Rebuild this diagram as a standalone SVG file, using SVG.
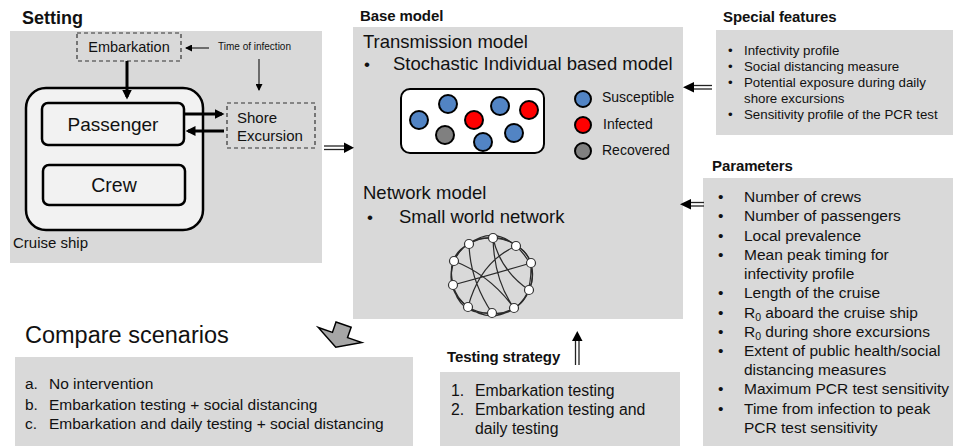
<svg xmlns="http://www.w3.org/2000/svg" width="959" height="446" viewBox="0 0 959 446">
  <defs>
    <style>
      text { font-family: "Liberation Sans", Arial, sans-serif; fill: #111; }
      .panel { fill: #d9d9d9; }
      .title { font-weight: bold; font-size: 15px; letter-spacing: -0.1px; }
      .dash { fill: none; stroke: #333; stroke-width: 1.2; stroke-dasharray: 4 3; }
      .box { fill: #f2f2f2; stroke: #000; stroke-width: 2.5; }
      .thick { stroke: #000; stroke-width: 3; fill: none; }
      .thin { stroke: #222; stroke-width: 1.2; fill: none; }
      .dot { stroke: #000; stroke-width: 2; }
      .s { fill: #5284c4; }
      .i { fill: #ff0000; }
      .r { fill: #808080; }
      .edge { fill: none; stroke: #2a2a2a; stroke-width: 1.2; }
      .node { fill: #fff; stroke: #333; stroke-width: 1.2; }
      .dbl { stroke: #222; stroke-width: 1.3; }
      .sm { font-size: 13.3px; }
      .md { font-size: 15.5px; }
    </style>
    <marker id="headBig" markerWidth="10" markerHeight="10" refX="6" refY="4" orient="auto" markerUnits="userSpaceOnUse" viewBox="0 0 8 8">
      <path d="M0,0 L8,4 L0,8 Z" fill="#000"/>
    </marker>
    <marker id="headSmall" markerWidth="7" markerHeight="7" refX="6" refY="3.5" orient="auto" markerUnits="userSpaceOnUse" viewBox="0 0 7 7">
      <path d="M0,0 L7,3.5 L0,7 Z" fill="#000"/>
    </marker>
  </defs>

  <rect width="959" height="446" fill="#fff"/>

  <!-- Setting -->
  <g id="setting">
    <text x="22" y="24" font-weight="bold" font-size="18">Setting</text>
    <rect class="panel" x="10" y="31" width="312" height="232"/>
    <text x="13" y="248" font-size="15">Cruise ship</text>
    <text x="218" y="50" font-size="10">Time of infection</text>
  </g>
  <g id="embarkation">
    <rect class="dash" x="77" y="33" width="104" height="28"/>
    <text x="129" y="52" font-size="14.5" text-anchor="middle">Embarkation</text>
  </g>
  <g id="cruise-ship">
    <rect class="box" x="26" y="88" width="177" height="142" rx="20"/>
  </g>
  <g id="passenger">
    <rect class="box" x="42" y="103" width="142" height="42" rx="6"/>
    <text x="113" y="131" font-size="19" text-anchor="middle">Passenger</text>
  </g>
  <g id="crew">
    <rect class="box" x="43" y="165" width="142" height="40" rx="6"/>
    <text x="114" y="192" font-size="19.5" text-anchor="middle">Crew</text>
  </g>
  <g id="shore-excursion">
    <rect class="dash" x="227" y="103" width="88" height="45"/>
    <text x="237" y="123" font-size="15">Shore</text>
    <text x="237" y="141" font-size="15">Excursion</text>
  </g>

  <!-- Base model -->
  <g id="base-model">
    <text x="360" y="21" class="title">Base model</text>
    <rect class="panel" x="353" y="27" width="330" height="292"/>
    <text x="363" y="48" font-size="18.5">Transmission model</text>
    <text x="364" y="70" font-size="17">•</text>
    <text x="393" y="70" font-size="18.5">Stochastic Individual based model</text>
    <text x="363" y="199" font-size="18.5">Network model</text>
    <text x="367" y="223" font-size="17">•</text>
    <text x="399" y="223" font-size="18.5">Small world network</text>
  </g>
  <g id="population">
    <rect x="401" y="89" width="143" height="64" rx="9" fill="#fff" stroke="#000" stroke-width="2"/>
    <circle class="dot s" cx="419" cy="120" r="9"/>
    <circle class="dot s" cx="448" cy="104" r="9"/>
    <circle class="dot r" cx="445" cy="135" r="9"/>
    <circle class="dot i" cx="474" cy="120" r="9"/>
    <circle class="dot s" cx="483" cy="142" r="9"/>
    <circle class="dot s" cx="500" cy="106" r="9"/>
    <circle class="dot s" cx="514" cy="133" r="9"/>
    <circle class="dot i" cx="529" cy="110" r="9"/>
  </g>
  <g id="legend">
    <circle class="dot s" cx="583" cy="99" r="8"/>
    <circle class="dot i" cx="583" cy="125" r="8"/>
    <circle class="dot r" cx="583" cy="151" r="8"/>
    <text x="602" y="102" font-size="14">Susceptible</text>
    <text x="603" y="129" font-size="14">Infected</text>
    <text x="602" y="155" font-size="14">Recovered</text>
  </g>
  <g id="network">
    <!-- ring lattice -->
    <path class="edge" d="M493,238 Q506,237 516,246 Q527,251 531,263 Q535,277 529,290 Q525,302 514,308 Q503,315 492,313 Q479,314 468,307 Q456,298 453,285 Q449,272 454,261 Q459,249 469,244 Q480,237 493,238"/>
    <!-- second neighbours -->
    <path class="edge" d="M493,238 Q522,240 531,263 M516,246 Q540,268 529,290 M531,263 Q532,300 514,308 M529,290 Q515,318 492,313 M514,308 Q490,324 468,307 M492,313 Q459,316 453,285 M468,307 Q444,290 454,261 M453,285 Q446,255 469,244 M454,261 Q466,236 493,238 M469,244 Q493,226 516,246"/>
    <!-- long-range links -->
    <path class="edge" d="M493,238 Q500,270 529,290 M493,238 Q494,280 514,308 M454,261 Q490,275 514,308 M516,246 Q480,262 468,307 M531,263 Q490,275 453,285 M469,244 Q470,280 492,313"/>
    <circle class="node" cx="493" cy="238" r="4.5"/>
    <circle class="node" cx="516" cy="246" r="4.5"/>
    <circle class="node" cx="531" cy="263" r="4.5"/>
    <circle class="node" cx="529" cy="290" r="4.5"/>
    <circle class="node" cx="514" cy="308" r="4.5"/>
    <circle class="node" cx="492" cy="313" r="4.5"/>
    <circle class="node" cx="468" cy="307" r="4.5"/>
    <circle class="node" cx="453" cy="285" r="4.5"/>
    <circle class="node" cx="454" cy="261" r="4.5"/>
    <circle class="node" cx="469" cy="244" r="4.5"/>
  </g>

  <!-- Special features -->
  <g id="special-features">
    <text x="723" y="22" class="title">Special features</text>
    <rect class="panel" x="716" y="30" width="237" height="105"/>
    <g class="sm">
      <text x="728" y="55">•</text><text x="744" y="55">Infectivity profile</text>
      <text x="728" y="71">•</text><text x="744" y="71">Social distancing measure</text>
      <text x="728" y="87">•</text><text x="744" y="87">Potential exposure during daily</text>
      <text x="744" y="103">shore excursions</text>
      <text x="728" y="119">•</text><text x="744" y="119">Sensitivity profile of the PCR test</text>
    </g>
  </g>

  <!-- Parameters -->
  <g id="parameters">
    <text x="712" y="171" class="title">Parameters</text>
    <rect class="panel" x="703" y="178" width="250" height="268"/>
    <g class="md">
      <text x="718" y="202">•</text><text x="744" y="202">Number of crews</text>
      <text x="718" y="221">•</text><text x="744" y="221">Number of passengers</text>
      <text x="718" y="241">•</text><text x="744" y="241">Local prevalence</text>
      <text x="718" y="260">•</text><text x="744" y="260">Mean peak timing for</text>
      <text x="744" y="279">infectivity profile</text>
      <text x="718" y="298">•</text><text x="744" y="298">Length of the cruise</text>
      <text x="718" y="318">•</text><text x="744" y="318">R<tspan font-size="10.5" dy="3">0</tspan><tspan dy="-3"> aboard the cruise ship</tspan></text>
      <text x="718" y="337">•</text><text x="744" y="337">R<tspan font-size="10.5" dy="3">0</tspan><tspan dy="-3"> during shore excursions</tspan></text>
      <text x="718" y="356">•</text><text x="744" y="356">Extent of public health/social</text>
      <text x="744" y="375">distancing measures</text>
      <text x="718" y="394">•</text><text x="744" y="394">Maximum PCR test sensitivity</text>
      <text x="718" y="414">•</text><text x="744" y="414">Time from infection to peak</text>
      <text x="744" y="433">PCR test sensitivity</text>
    </g>
  </g>

  <!-- Compare scenarios -->
  <g id="compare-scenarios">
    <text x="25" y="343" font-size="23.5">Compare scenarios</text>
    <rect class="panel" x="15" y="357" width="398" height="89"/>
    <g class="md">
      <text x="25" y="389">a.</text><text x="49" y="389">No intervention</text>
      <text x="25" y="410">b.</text><text x="49" y="410">Embarkation testing + social distancing</text>
      <text x="25" y="429">c.</text><text x="49" y="429">Embarkation and daily testing + social distancing</text>
    </g>
  </g>

  <!-- Testing strategy -->
  <g id="testing-strategy">
    <text x="447" y="362" class="title">Testing strategy</text>
    <rect class="panel" x="440" y="372" width="240" height="74"/>
    <g font-size="15.8">
      <text x="451" y="396">1.</text><text x="475" y="396">Embarkation testing</text>
      <text x="451" y="415">2.</text><text x="475" y="415">Embarkation testing and</text>
      <text x="475" y="434">daily testing</text>
    </g>
  </g>

  <!-- Connectors -->
  <g id="connectors">
    <!-- inside the setting panel -->
    <line class="thin" x1="209" y1="48" x2="186" y2="48" marker-end="url(#headSmall)"/>
    <line class="thin" x1="259" y1="59" x2="259" y2="90" marker-end="url(#headSmall)"/>
    <line class="thick" x1="127" y1="61" x2="127" y2="97" marker-end="url(#headBig)"/>
    <line class="thick" x1="183" y1="114" x2="222" y2="114" marker-end="url(#headBig)"/>
    <line class="thick" x1="224" y1="131" x2="188" y2="131" marker-end="url(#headBig)"/>

    <!-- setting to base model -->
    <line class="dbl" x1="324" y1="146" x2="345" y2="146"/>
    <line class="dbl" x1="324" y1="149.5" x2="345" y2="149.5"/>
    <path d="M344,142.5 L354,147.8 L344,153 Z" fill="#000"/>

    <!-- special features to base model -->
    <line class="dbl" x1="693" y1="85.5" x2="712" y2="85.5"/>
    <line class="dbl" x1="693" y1="89" x2="712" y2="89"/>
    <path d="M694,82 L683,87.3 L694,92.5 Z" fill="#000"/>

    <!-- parameters to base model -->
    <line class="dbl" x1="690" y1="202.5" x2="704" y2="202.5"/>
    <line class="dbl" x1="690" y1="206" x2="704" y2="206"/>
    <path d="M691,199 L680,204.3 L691,209.5 Z" fill="#000"/>

    <!-- testing strategy to base model -->
    <line class="dbl" x1="575.5" y1="339" x2="575.5" y2="365"/>
    <line class="dbl" x1="579" y1="339" x2="579" y2="365"/>
    <path d="M572,341 L577.3,331 L582.5,341 Z" fill="#000"/>

    <!-- base model to compared scenarios -->
    <polygon points="-8,-11 8,-11 8,0 23,0 0,13 -23,0 -8,0" transform="translate(340,335) rotate(19)" fill="#a6a6a6" stroke="#000" stroke-width="1.5" stroke-linejoin="miter"/>
  </g>
</svg>
